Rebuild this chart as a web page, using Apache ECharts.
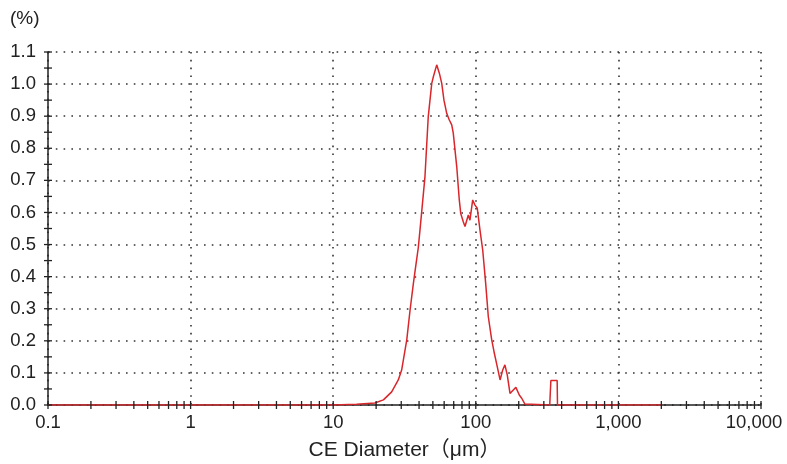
<!DOCTYPE html>
<html>
<head>
<meta charset="utf-8">
<script src="https://cdn.jsdelivr.net/npm/echarts@6/dist/echarts.min.js"></script>
<style>
  html, body { margin: 0; padding: 0; background: #fff; }
  #chart { width: 787px; height: 464px; }
</style>
</head>
<body>
<div id="chart"></div>
<script>
// particle size distribution
const diameters = [
  0.1, 1, 10, 14.6, 19.6, 22.5, 25.7, 28.6, 30.2, 32.8, 34.6, 36.5, 38.1, 39.5,
  40.6, 44.0, 46.4, 49.1, 50.4, 53.2, 55.5, 57.7, 59.8, 62.5, 65.2, 67.8, 69.5,
  73.5, 76.6, 78.4, 81.7, 84.0, 88.6, 91.0, 95.1, 98.7, 102.4, 107, 111.8,
  117.3, 122.4, 129.3, 134.2, 141.5, 148, 154.4, 160, 166.3, 173.7, 183.2, 191,
  201.8, 209.9, 221, 330, 334, 336, 372, 374, 378, 2000
];
const percents = [
  0, 0, 0, 0.002, 0.006, 0.016, 0.041, 0.078, 0.109, 0.203, 0.296, 0.379, 0.44, 0.49,
  0.545, 0.711, 0.898, 1.002, 1.023, 1.06, 1.034, 1.002, 0.95, 0.909, 0.888, 0.873, 0.847,
  0.743, 0.639, 0.597, 0.571, 0.556, 0.592, 0.576, 0.639, 0.623, 0.613, 0.545, 0.483,
  0.379, 0.275, 0.203, 0.166, 0.119, 0.078, 0.109, 0.125, 0.093, 0.036, 0.047, 0.055,
  0.031, 0.021, 0.003, 0, 0, 0.076, 0.076, 0, 0, 0
];
const xTickLabels = ["0.1", "1", "10", "100", "1,000", "10,000"];
const xTickValues = [];
for (let e = -1; e <= 3; e++) {
  for (let m = 1; m <= 9; m++) xTickValues.push(m * Math.pow(10, e));
}
xTickValues.push(10000);
const yTickValues = [];
for (let i = 0; i <= 22; i++) yTickValues.push(i * 0.05);

const chart = echarts.init(document.getElementById("chart"));
const font = "'Liberation Sans', Arial, sans-serif";
const dotted = { color: "#333", width: 1.6, type: [1.6, 6.2] };
const labelText = { fontFamily: font, fontSize: 18.5, color: "#222" };

chart.setOption({
  animation: false,
  grid: { left: 48, right: 26, top: 52, bottom: 59, outerBoundsMode: "none", containLabel: false },
  graphic: [
    { type: "text", left: 10, top: 9, style: { text: "(%)", font: "19px " + font, fill: "#222" } },
  ],
  xAxis: {
    type: "log",
    logBase: 10,
    min: 0.1,
    max: 10000,
    name: "CE Diameter（μm）",
    nameLocation: "middle",
    nameGap: 35,
    nameTextStyle: { fontFamily: font + ", 'Noto Sans CJK JP'", fontSize: 21, color: "#222" },
    axisLine: { lineStyle: { color: "#222", width: 1.5 } },
    axisTick: { show: false },
    axisLabel: {
      margin: 8,
      ...labelText,
      formatter: (v) => {
        const i = Math.round(Math.log10(v)) + 1;
        return i === xTickLabels.length - 1 ? "{last|" + xTickLabels[i] + "}" : xTickLabels[i];
      },
      rich: { last: { ...labelText, padding: [0, 14, 0, 0] } },
    },
    splitLine: { show: true, lineStyle: dotted },
  },
  yAxis: {
    type: "value",
    min: 0,
    max: 1.1,
    interval: 0.1,
    axisLine: { show: true, lineStyle: { color: "#222", width: 1.5 } },
    axisTick: { show: false },
    axisLabel: {
      margin: 12,
      ...labelText,
      formatter: (v) => v.toFixed(1),
    },
    splitLine: { show: true, lineStyle: dotted },
  },
  series: [
    {
      type: "line",
      data: diameters.map((d, i) => [d, percents[i]]),
      showSymbol: false,
      lineStyle: { color: "#d9262b", width: 1.5 },
      z: 3,
    },
    {
      type: "custom",
      clip: false,
      data: xTickValues.map((v) => [v, 0]),
      renderItem: (params, api) => {
        const p = api.coord([api.value(0), 0]);
        return {
          type: "line",
          shape: { x1: p[0], y1: p[1] - 4, x2: p[0], y2: p[1] + 4 },
          style: { stroke: "#222", lineWidth: 1.3 },
        };
      },
      z: 4,
    },
    {
      type: "custom",
      clip: false,
      data: yTickValues.map((v) => [0.1, v]),
      renderItem: (params, api) => {
        const p = api.coord([0.1, api.value(1)]);
        return {
          type: "line",
          shape: { x1: p[0] - 4, y1: p[1], x2: p[0] + 4, y2: p[1] },
          style: { stroke: "#222", lineWidth: 1.3 },
        };
      },
      z: 4,
    },
  ],
});
</script>
</body>
</html>
